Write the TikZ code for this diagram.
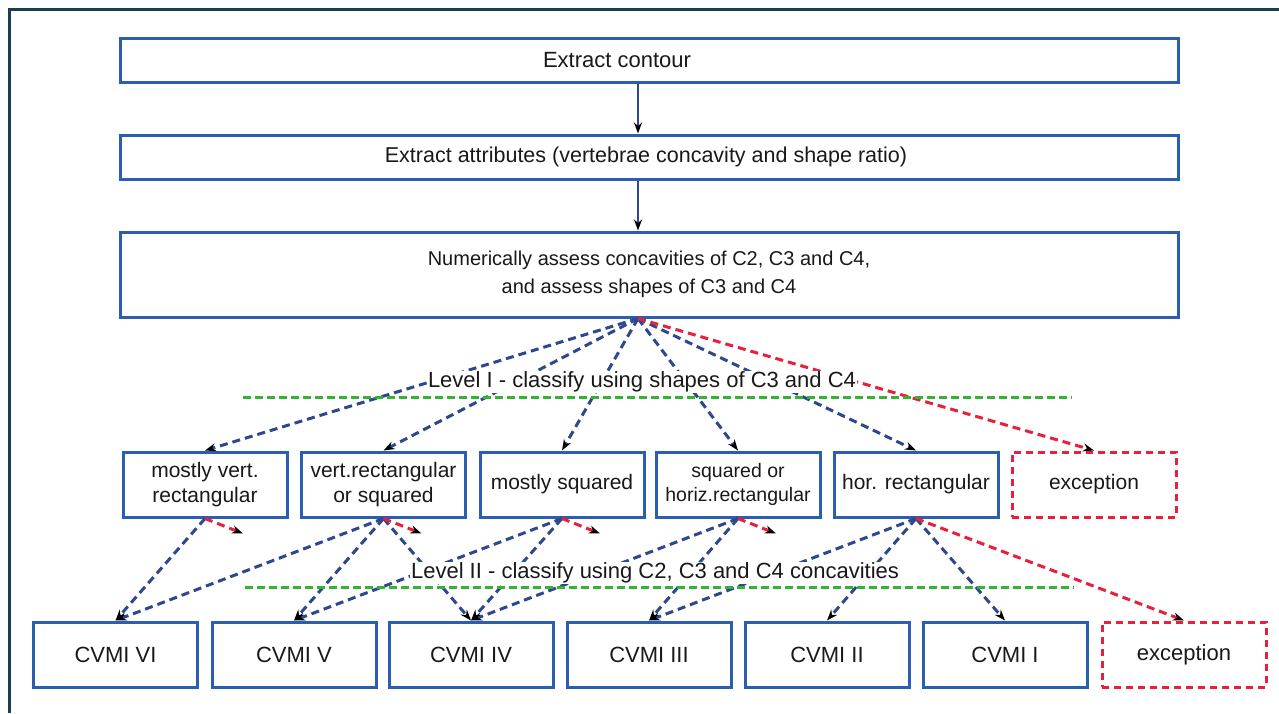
\documentclass[tikz,border=0pt]{standalone}
\usepackage{fontspec}
\setmainfont{Liberation Sans}
\usetikzlibrary{arrows.meta,calc}
\definecolor{boxblue}{RGB}{43,94,176}
\definecolor{arrblue}{RGB}{46,72,142}
\definecolor{exred}{RGB}{232,32,60}
\definecolor{lvgreen}{RGB}{52,178,52}
\definecolor{framec}{RGB}{28,62,82}
\definecolor{textc}{RGB}{25,25,25}
\begin{document}
\begin{tikzpicture}[x=1pt,y=-1pt,
  tip/.style={-{Stealth[length=11pt,width=8pt,color=black]}},
  topbox/.style={draw=boxblue, line width=3pt, fill=white, minimum width=1058pt, inner sep=0pt, align=center, text=textc, font=\fontsize{22}{28}\selectfont},
  box/.style={draw=boxblue, line width=3pt, fill=white, minimum width=164pt, minimum height=65pt, inner sep=0pt, align=center, text=textc, font=\fontsize{21}{25}\selectfont},
  exbox/.style={draw=exred, line width=3pt, dash pattern=on 7pt off 5pt, fill=white, minimum width=164pt, minimum height=65pt, inner sep=0pt, align=center, text=textc, font=\fontsize{21}{25}\selectfont},
  cvbox/.style={box, font=\fontsize{22}{26}\selectfont},
  solidarr/.style={tip, draw=arrblue, line width=2.5pt},
  bluearr/.style={tip, draw=arrblue, line width=3pt, dash pattern=on 8pt off 5pt},
  redarr/.style={tip, draw=exred, line width=3pt, dash pattern=on 8pt off 5pt},
  greenline/.style={draw=lvgreen, line width=3pt, dash pattern=on 8pt off 4pt},
  lvlabel/.style={fill=white, inner sep=1pt, text=textc, font=\fontsize{22}{26}\selectfont}
]
\useasboundingbox (0,0) rectangle (1279,713);
\fill[white] (0,0) rectangle (1279,713);
% frame
\coordinate (fr0) at (9.5,713);
\coordinate (fr1) at (9.5,9.5);
\coordinate (fr2) at (1279,9.5);
\draw[framec, line width=3pt] (fr0) -- (fr1) -- (fr2);

% top boxes
\coordinate (fx) at (638,0);
\node[topbox, minimum height=44pt] (b1) at (649,60) {Extract contour\hspace*{64pt}};
\node[topbox, minimum height=44pt, font=\fontsize{21.5}{28}\selectfont] (b2) at (649,157) {Extract attributes (vertebrae concavity and shape ratio)\hspace*{6pt}};
\node[topbox, minimum height=85pt, font=\fontsize{20}{28}\selectfont] (b3) at (649,274.5) {Numerically assess concavities of C2, C3 and C4,\\and assess shapes of C3 and C4};
\draw[solidarr] (b1.south -| fx) -- (b2.north -| fx);
\draw[solidarr] (b2.south -| fx) -- (b3.north -| fx);
\coordinate (fan) at (b3.south -| fx);

% level I boxes
\node[box] (l1) at (205,484.5) {mostly vert.\\rectangular};
\node[box] (l2) at (383.5,484.5) {vert.rectangular\\or squared};
\node[box] (l3) at (562,484.5) {mostly squared};
\node[box, font=\fontsize{19.5}{24}\selectfont] (l4) at (738,484.5) {squared or\\horiz.rectangular};
\node[box] (l5) at (916,484.5) {hor. rectangular};
\node[exbox] (le) at (1094,484.5) {exception};

% level II boxes
\node[cvbox] (c6) at (115.5,654.5) {CVMI VI};
\node[cvbox] (c5) at (294,654.5) {CVMI V};
\node[cvbox] (c4) at (471,654.5) {CVMI IV};
\node[cvbox] (c3) at (649,654.5) {CVMI III};
\node[cvbox] (c2) at (827,654.5) {CVMI II};
\node[cvbox] (c1) at (1005,654.5) {CVMI I};
\node[exbox, font=\fontsize{22}{26}\selectfont] (ce) at (1184,654.5) {exception};

% level I arrows
\foreach \t in {l1,l2,l3,l4,l5} \draw[bluearr] (fan) -- (\t.north);
\draw[redarr] (fan) -- (le.north);

% level II arrows
\draw[bluearr] (l1.south) -- (c6.north);
\draw[bluearr] (l2.south) -- (c6.north);
\draw[bluearr] (l2.south) -- (c5.north);
\draw[bluearr] (l2.south) -- (c4.north);
\draw[bluearr] (l3.south) -- (c5.north);
\draw[bluearr] (l3.south) -- (c4.north);
\draw[bluearr] (l4.south) -- (c4.north);
\draw[bluearr] (l4.south) -- (c3.north);
\draw[bluearr] (l5.south) -- (c3.north);
\draw[bluearr] (l5.south) -- (c2.north);
\draw[bluearr] (l5.south) -- (c1.north);
\draw[redarr] (l5.south) -- (ce.north);

% short red arrows
\foreach \s in {l1,l2,l3,l4} {
  \coordinate (\s r) at ($(\s.south)+(38,15)$);
  \draw[redarr] (\s.south) -- (\s r);
}

% level separators
\coordinate (g1a) at (243,397);
\coordinate (g1b) at (1072,397);
\coordinate (g2a) at (245,587);
\coordinate (g2b) at (1074,587);
\draw[greenline] (g1a) -- (g1b);
\draw[greenline] (g2a) -- (g2b);
\node[lvlabel] (lv1) at (642,382) {Level I - classify using shapes of C3 and C4};
\node[lvlabel] (lv2) at (655,573) {Level II - classify using C2, C3 and C4 concavities};
\end{tikzpicture}
\end{document}
